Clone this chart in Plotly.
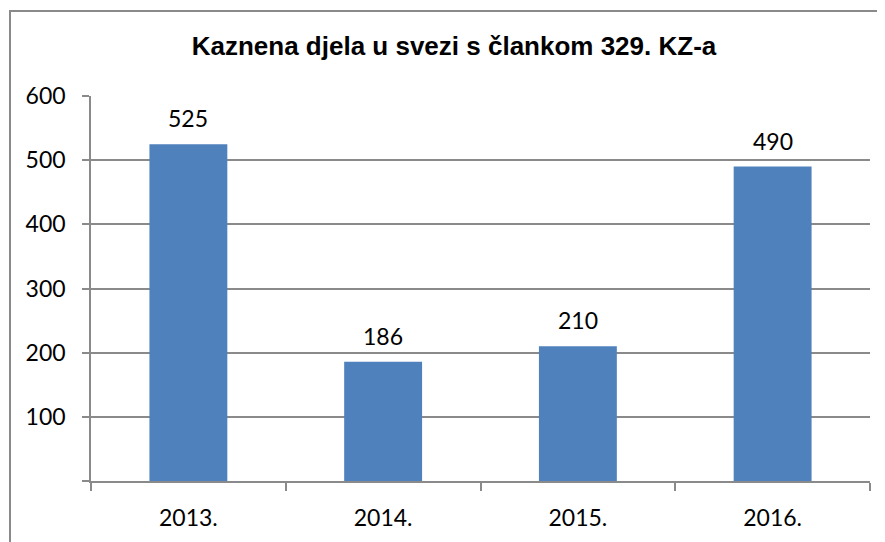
import plotly.graph_objects as go

categories = ["2013.", "2014.", "2015.", "2016."]
values = [525, 186, 210, 490]
y_tickvals = [0, 100, 200, 300, 400, 500, 600]
y_ticktext = ["", "100", "200", "300", "400", "500", "600"]
title_text = "Kaznena djela u svezi s člankom 329. KZ-a"

# page body has an 8px margin; size the figure to the visible area
OFF = 8
W, H = 885 - OFF, 542 - OFF
L, R, T, B = 91 - OFF, 15, 96 - OFF, 61
pw, ph = W - L - R, H - T - B

grid_col = "#8a8a8a"
num_font = dict(family="Lato, Carlito, Calibri, sans-serif", size=23, color="#000000")

fig = go.Figure()
fig.add_trace(go.Bar(
    x=categories, y=values,
    marker=dict(color="#4F81BD", line=dict(width=0)),
    width=0.4,
    hoverinfo="skip",
))

for i, v in enumerate(values):
    fig.add_annotation(x=i, y=v, xref="x", yref="y", text=str(v),
                       showarrow=False, yanchor="middle", yshift=26,
                       font=num_font)

# chart border (cropped on right & bottom)
bx0 = (10 - OFF - L) / pw
by1 = 1 + (T - (11 - OFF)) / ph
fig.add_shape(type="rect", xref="paper", yref="paper",
              x0=bx0, x1=1.2, y0=-0.5, y1=by1,
              line=dict(color="#8a8a8a", width=2), layer="below")

fig.update_layout(
    width=W, height=H,
    margin=dict(l=L, r=R, t=T, b=B),
    paper_bgcolor="white", plot_bgcolor="white",
    showlegend=False,
    title=dict(text="<b>" + title_text + "</b>", x=(454 - OFF) / W, xref="container", xanchor="center",
               y=1 - (46 - OFF) / H, yref="container", yanchor="middle",
               font=dict(family="Liberation Sans, Arial, sans-serif", size=26, color="#000000")),
)
fig.update_xaxes(
    type="category", automargin=False, tickangle=0, range=[-0.5, len(categories) - 0.5],
    showline=True, linecolor=grid_col, linewidth=1.5,
    ticks="outside", tickson="boundaries", ticklen=8, tickcolor=grid_col, tickwidth=1.5,
    tickfont=num_font, showgrid=False, ticklabelstandoff=16,
)
fig.update_yaxes(
    range=[0, 600], tickvals=y_tickvals, ticktext=y_ticktext, automargin=False,
    showline=True, linecolor=grid_col, linewidth=1.5,
    ticks="outside", ticklen=7, tickcolor=grid_col, tickwidth=1.5,
    showgrid=True, gridcolor=grid_col, gridwidth=1.5,
    tickfont=num_font, zeroline=False, ticklabelstandoff=12,
)

fig.write_html("out.html")
